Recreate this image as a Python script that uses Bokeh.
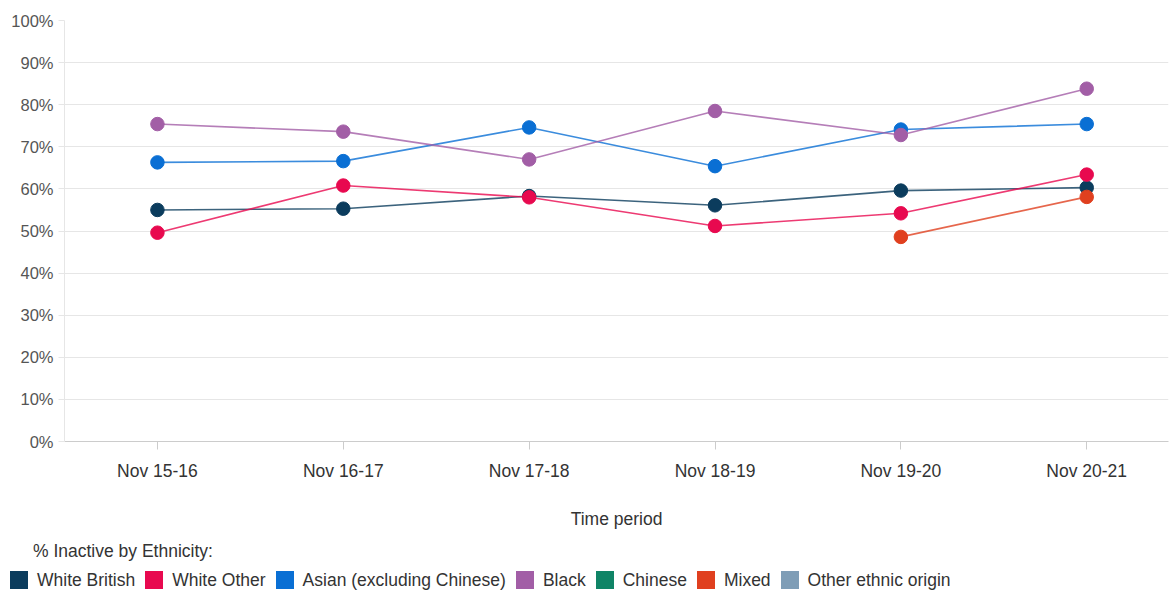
from bokeh.plotting import figure
from bokeh.layouts import column
from bokeh.models import ColumnDataSource, FixedTicker, Range1d, Div
from bokeh.embed import file_html
from bokeh.resources import INLINE

periods = ["Nov 15-16", "Nov 16-17", "Nov 17-18", "Nov 18-19", "Nov 19-20", "Nov 20-21"]

white_british = [55.0, 55.3, 58.3, 56.1, 59.6, 60.3]
white_other = [49.6, 60.8, 58.0, 51.2, 54.2, 63.4]
asian = [66.3, 66.6, 74.6, 65.4, 74.1, 75.4]
black = [75.4, 73.6, 67.0, 78.5, 72.8, 83.8]
chinese = [None, None, None, None, None, None]
mixed = [None, None, None, None, 48.6, 58.1]
other = [None, None, None, None, None, None]

series_names = ["White British", "White Other", "Asian (excluding Chinese)", "Black",
                "Chinese", "Mixed", "Other ethnic origin"]
series_values = [white_british, white_other, asian, black, chinese, mixed, other]
series_colors = ["#0b3c5d", "#e8094f", "#0a6fd4", "#a25ea6", "#0f8466", "#e0401f", "#7f9db6"]
legend_title = "% Inactive by Ethnicity:"

FONT = "Liberation Sans"

p = figure(width=1170, height=536, frame_width=1104, frame_height=421,
           output_backend="svg", toolbar_location=None,
           x_range=Range1d(-0.5, 5.44), y_range=Range1d(0, 100),
           min_border_left=64, min_border_right=2, min_border_top=20, min_border_bottom=95)
p.outline_line_color = None
p.background_fill_color = "white"

for name, vals, col in zip(series_names, series_values, series_colors):
    xs = [i for i, v in enumerate(vals) if v is not None]
    ys = [float(v) for v in vals if v is not None]
    src = ColumnDataSource(dict(x=xs, y=ys))
    p.line("x", "y", source=src, line_color=col, line_width=1.6, line_alpha=0.8)
    p.scatter("x", "y", source=src, size=13.5, fill_color=col, line_color=col)

# axes
p.xaxis.ticker = FixedTicker(ticks=list(range(len(periods))))
p.xaxis.major_label_overrides = {i: lab for i, lab in enumerate(periods)}
p.xaxis.axis_label = "Time period"
p.xaxis.axis_label_text_font = FONT
p.xaxis.axis_label_text_font_style = "normal"
p.xaxis.axis_label_text_font_size = "17.5px"
p.xaxis.axis_label_text_color = "#333333"
p.xaxis.axis_label_standoff = 25
p.xaxis.major_label_text_font = FONT
p.xaxis.major_label_text_font_size = "17.5px"
p.xaxis.major_label_text_color = "#333333"
p.xaxis.major_label_standoff = 11
p.xaxis.axis_line_color = "#cccccc"
p.xaxis.major_tick_line_color = "#cccccc"
p.xaxis.major_tick_out = 8
p.xaxis.major_tick_in = 0
p.xaxis.minor_tick_line_color = None

p.yaxis.ticker = FixedTicker(ticks=list(range(0, 101, 10)))
p.yaxis.major_label_overrides = {v: f"{v}%" for v in range(0, 101, 10)}
p.yaxis.major_label_text_font = FONT
p.yaxis.major_label_text_font_size = "16.5px"
p.yaxis.major_label_text_color = "#555555"
p.yaxis.major_label_standoff = 5
p.yaxis.axis_line_color = "#e6e6e6"
p.yaxis.major_tick_line_color = "#e6e6e6"
p.yaxis.major_tick_out = 6
p.yaxis.major_tick_in = 0
p.yaxis.minor_tick_line_color = None

p.xgrid.grid_line_color = None
p.ygrid.grid_line_color = "#e6e6e6"

# legend (below the chart) built from the series names and colours
items_html = "".join(
    f'<span style="display:inline-block;width:18px;height:18px;background:{c};'
    f'margin-right:9px;flex:none;"></span>'
    f'<span style="margin-right:10px;white-space:nowrap;line-height:18px;">{n}</span>'
    for n, c in zip(series_names, series_colors)
)
legend_html = (
    f'<div style="font-family:\'{FONT}\';font-size:17.5px;color:#333333;'
    f'width:1170px;height:56px;box-sizing:border-box;padding-top:5px;">'
    f'<div style="padding-left:33px;height:20px;line-height:20px;white-space:nowrap;">'
    f'{legend_title}</div>'
    f'<div style="margin-top:10px;padding-left:10px;display:flex;align-items:center;'
    f'height:18px;">{items_html}</div>'
    f'</div>'
)
legend_div = Div(text=legend_html, width=1170, height=56, margin=0)

layout = column(p, legend_div, spacing=0)
open("out.html", "w").write(file_html(layout, INLINE))
